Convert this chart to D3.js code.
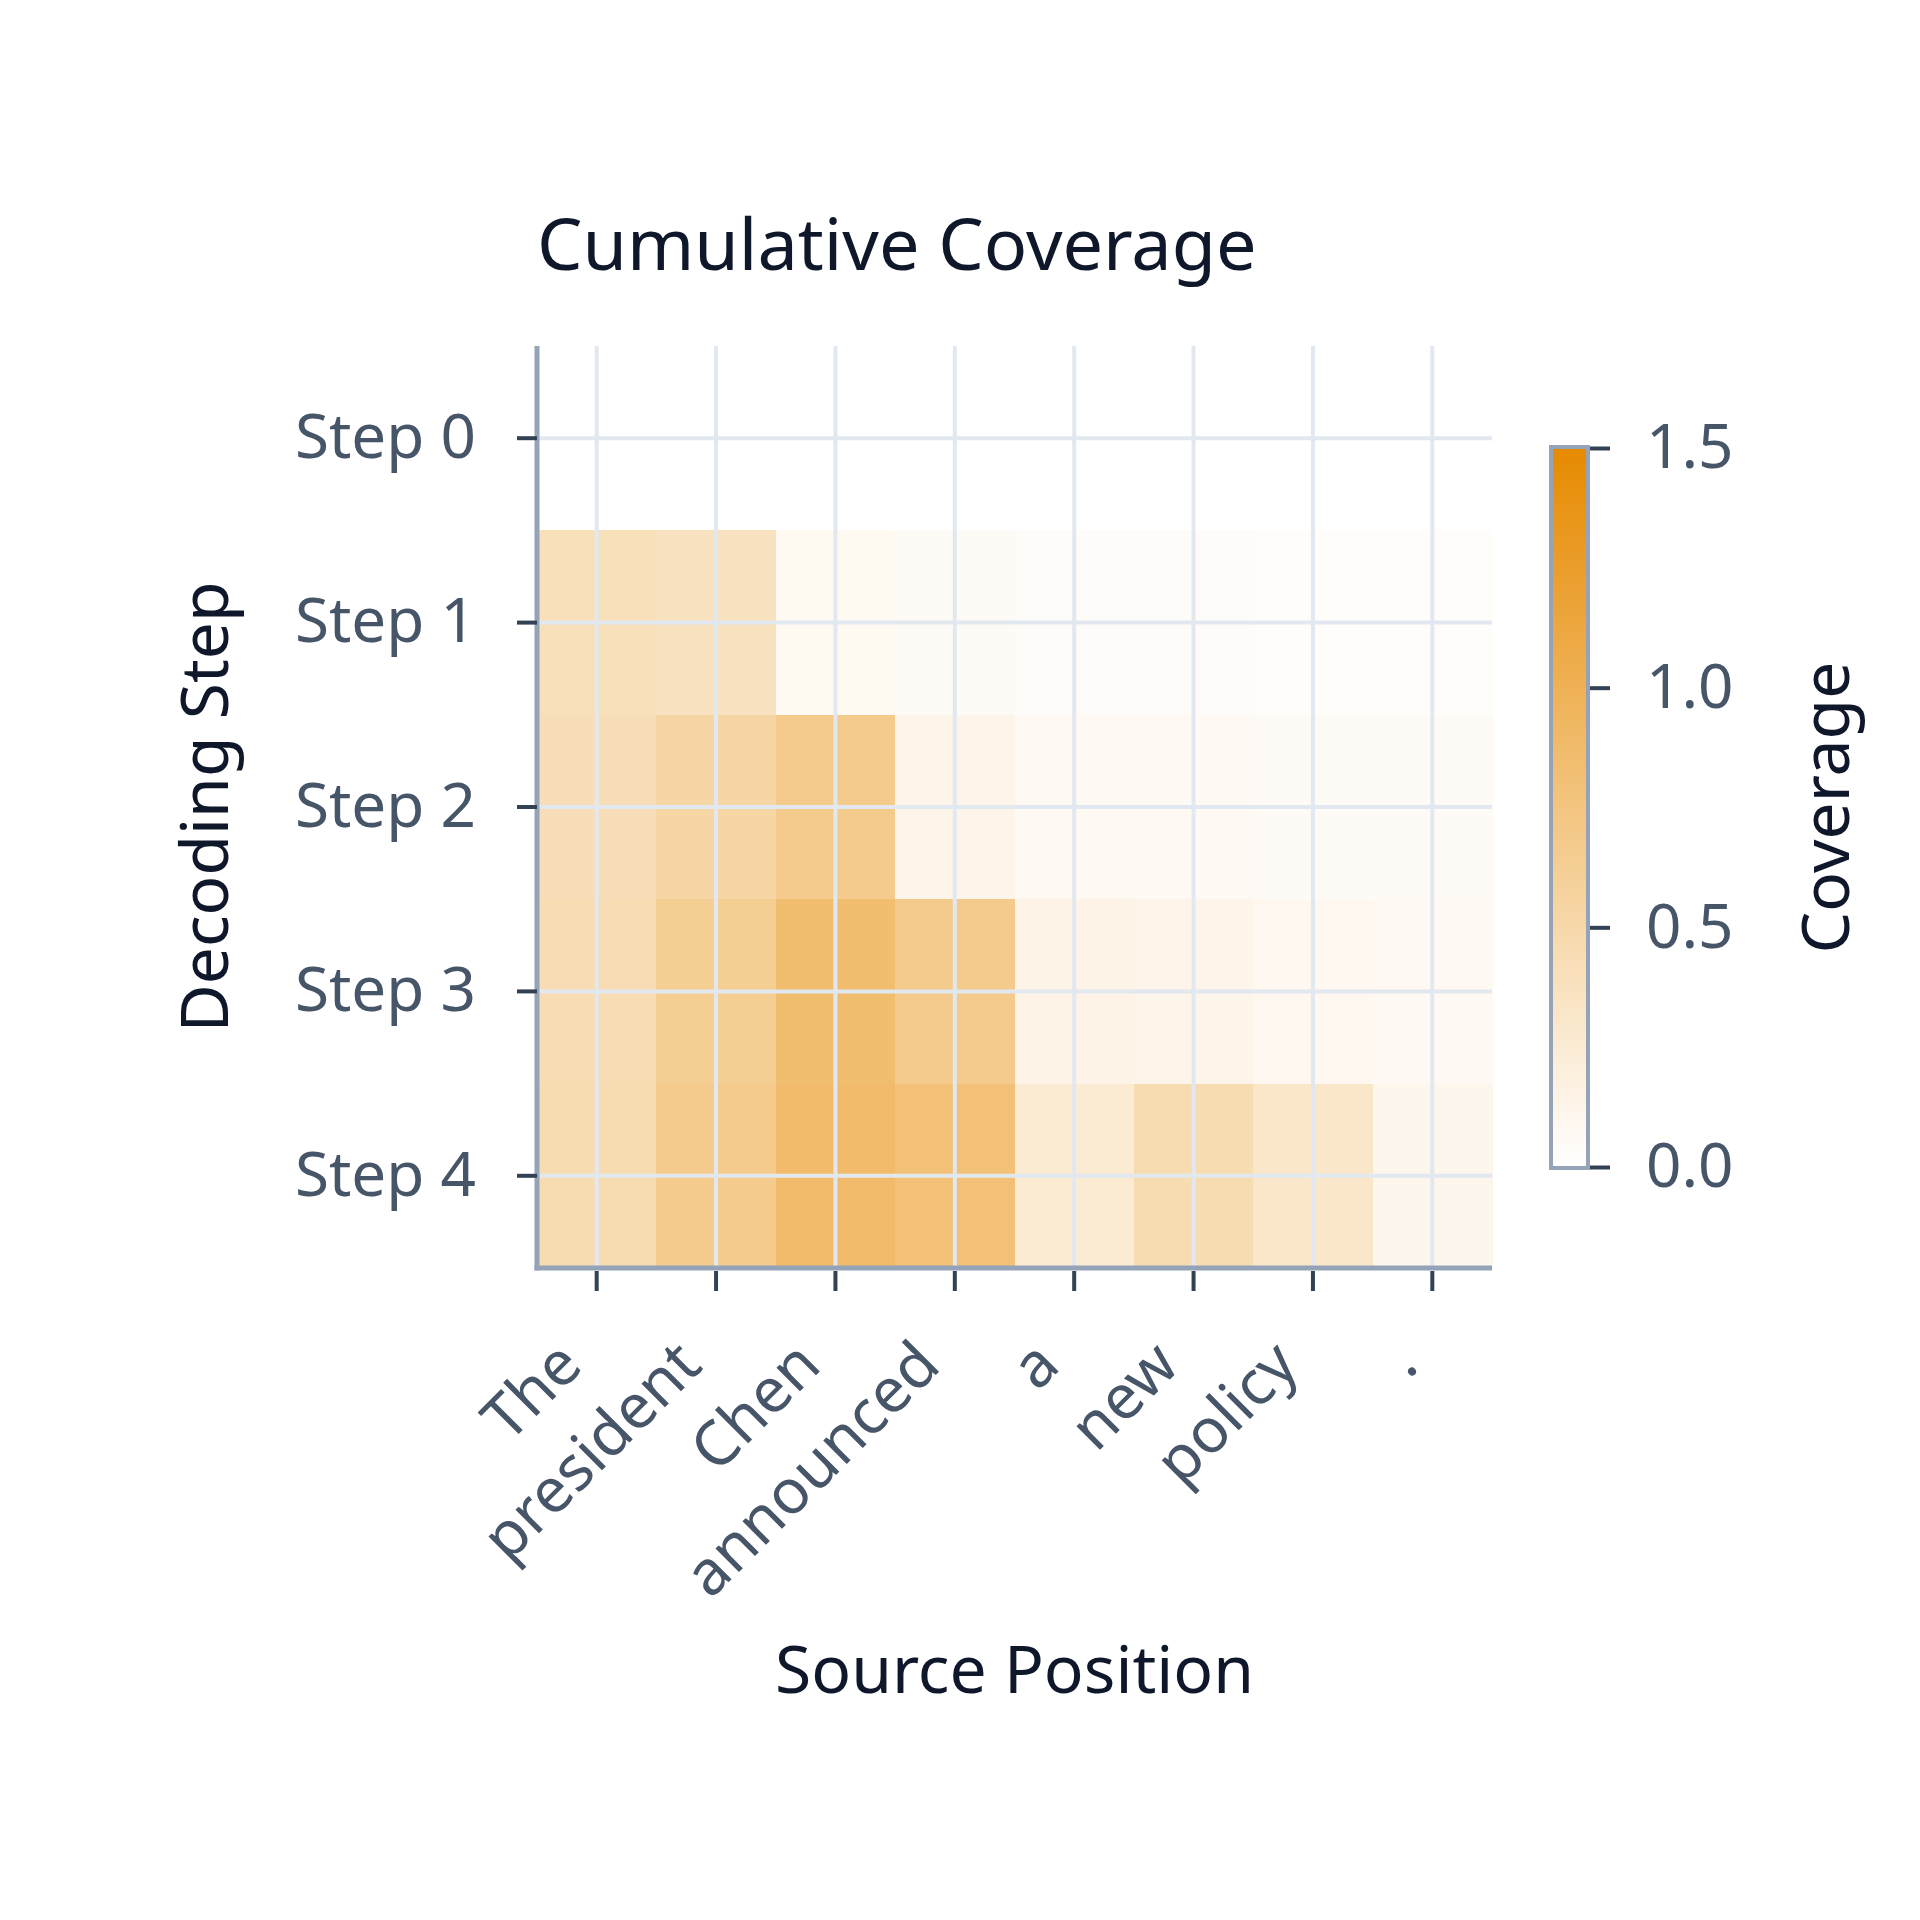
<!DOCTYPE html>
<html>
<head>
<meta charset="utf-8">
<script src="https://cdn.jsdelivr.net/npm/d3@7"></script>
<style>
  html, body { margin: 0; padding: 0; background: #ffffff; }
  svg { display: block; font-family: "Noto Sans", "Open Sans", sans-serif; }
</style>
</head>
<body>
<svg id="chart" width="1920" height="1920"></svg>
<script>
// Source tokens (columns) and decoding steps (rows)
const tokens = ['The', 'president', 'Chen', 'announced', 'a', 'new', 'policy', '.'];
const steps = ['Step 0', 'Step 1', 'Step 2', 'Step 3', 'Step 4'];

// Cumulative coverage per step, one array per row
const step0 = [0.00, 0.00, 0.00, 0.00, 0.00, 0.00, 0.00, 0.00];
const step1 = [0.40, 0.37, 0.08, 0.06, 0.04, 0.04, 0.03, 0.03];
const step2 = [0.42, 0.53, 0.67, 0.13, 0.07, 0.07, 0.06, 0.06];
const step3 = [0.44, 0.63, 0.85, 0.67, 0.14, 0.13, 0.09, 0.07];
const step4 = [0.46, 0.67, 0.87, 0.80, 0.26, 0.46, 0.31, 0.11];
const coverage = [step0, step1, step2, step3, step4];

const colorTicks = [0, 0.5, 1.0, 1.5];

const svg = d3.select('#chart');

const plot = { left: 537, right: 1492, top: 346, bottom: 1268 };

const x = d3.scaleBand().domain(tokens).range([plot.left, plot.right]);
const y = d3.scaleBand().domain(steps).range([plot.top, plot.bottom]);
const color = d3.scaleLinear()
  .domain([0, 1.5])
  .range(['#ffffff', '#e68a00'])
  .interpolate(d3.interpolateRgb)
  .clamp(true);

// flatten to cells
const cells = [];
coverage.forEach((row, i) => {
  row.forEach((v, j) => cells.push({ step: steps[i], token: tokens[j], value: v }));
});

// heatmap cells
svg.append('g')
  .selectAll('rect')
  .data(cells)
  .enter()
  .append('rect')
  .attr('x', d => x(d.token))
  .attr('y', d => y(d.step))
  .attr('width', x.bandwidth() + 0.5)
  .attr('height', y.bandwidth() + 0.5)
  .attr('fill', d => color(d.value))
  .attr('shape-rendering', 'crispEdges');

// grid lines on top of cells
const grid = svg.append('g').attr('stroke', '#e2e8f0').attr('stroke-width', 4);
grid.selectAll('.vgrid')
  .data(tokens)
  .enter()
  .append('line')
  .attr('x1', d => x(d) + x.bandwidth() / 2)
  .attr('x2', d => x(d) + x.bandwidth() / 2)
  .attr('y1', plot.top)
  .attr('y2', plot.bottom);
grid.selectAll('.hgrid')
  .data(steps)
  .enter()
  .append('line')
  .attr('x1', plot.left)
  .attr('x2', plot.right)
  .attr('y1', d => y(d) + y.bandwidth() / 2)
  .attr('y2', d => y(d) + y.bandwidth() / 2);

function styleAxis(g) {
  g.select('.domain').attr('stroke', '#94a3b8').attr('stroke-width', 5);
  g.selectAll('.tick line').attr('stroke', '#334155').attr('stroke-width', 4);
  g.selectAll('.tick text')
    .attr('fill', '#475569')
    .style('font-size', '62px')
    .style('font-family', '"Noto Sans", sans-serif');
}

// y axis
const yAxis = svg.append('g')
  .attr('transform', `translate(${plot.left},0)`)
  .call(d3.axisLeft(y).tickSize(20).tickSizeOuter(0).tickPadding(41));
styleAxis(yAxis);
yAxis.select('.domain').attr('d', `M0,${plot.top}V${plot.bottom + 2.5}`);

// x axis
const xAxis = svg.append('g')
  .attr('transform', `translate(0,${plot.bottom})`)
  .call(d3.axisBottom(x).tickSize(23).tickSizeOuter(0));
styleAxis(xAxis);
xAxis.select('.domain').attr('d', `M${plot.left - 2.5},0H${plot.right}`);
xAxis.selectAll('.tick line').attr('y1', 3);
xAxis.selectAll('.tick text')
  .attr('x', 0)
  .attr('y', 0)
  .attr('dy', 0)
  .attr('text-anchor', 'end')
  .attr('transform', 'translate(-12,100) rotate(-45)');

// colour bar
const bar = { x: 1551, y: 447, w: 37, h: 721 };
const cScale = d3.scaleLinear().domain([0, 1.5]).range([1167, 448]);

const defs = svg.append('defs');
const grad = defs.append('linearGradient')
  .attr('id', 'cbar')
  .attr('x1', 0).attr('y1', 1)
  .attr('x2', 0).attr('y2', 0);
d3.range(0, 1.0001, 0.1).forEach(t => {
  grad.append('stop')
    .attr('offset', t)
    .attr('stop-color', color(t * 1.5));
});

svg.append('rect')
  .attr('x', bar.x)
  .attr('y', bar.y)
  .attr('width', bar.w)
  .attr('height', bar.h)
  .attr('fill', 'url(#cbar)')
  .attr('stroke', '#94a3b8')
  .attr('stroke-width', 4);

const cAxis = svg.append('g')
  .attr('transform', `translate(${bar.x + bar.w + 2},0)`)
  .call(d3.axisRight(cScale)
    .tickValues(colorTicks)
    .tickFormat(d3.format('.1f'))
    .tickSize(20)
    .tickPadding(36));
styleAxis(cAxis);
cAxis.select('.domain').remove();

// titles
svg.append('text')
  .attr('x', plot.left)
  .attr('y', 270)
  .attr('fill', '#0f172a')
  .style('font-size', '72px')
  .text('Cumulative Coverage');

svg.append('text')
  .attr('x', (plot.left + plot.right) / 2)
  .attr('y', 1693)
  .attr('text-anchor', 'middle')
  .attr('fill', '#0f172a')
  .style('font-size', '66px')
  .text('Source Position');

svg.append('text')
  .attr('transform', `translate(228,${(plot.top + plot.bottom) / 2}) rotate(-90)`)
  .attr('text-anchor', 'middle')
  .attr('fill', '#0f172a')
  .style('font-size', '66px')
  .text('Decoding Step');

svg.append('text')
  .attr('transform', `translate(1849,${(bar.y + bar.y + bar.h) / 2}) rotate(-90)`)
  .attr('text-anchor', 'middle')
  .attr('fill', '#0f172a')
  .style('font-size', '66px')
  .text('Coverage');
</script>
</body>
</html>
